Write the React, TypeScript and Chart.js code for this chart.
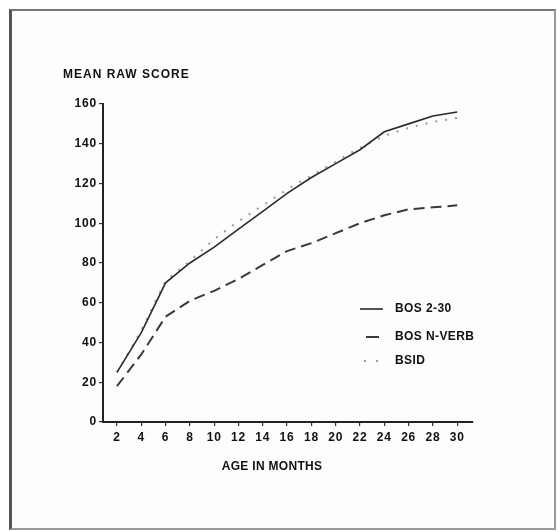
import React, { useEffect, useRef } from "react";
import { Chart, registerables } from "chart.js";

Chart.register(...registerables);

// ---- data ----
const ages = [2, 4, 6, 8, 10, 12, 14, 16, 18, 20, 22, 24, 26, 28, 30];
const bos230 = [25, 45, 70, 80, 88, 97, 106, 115, 123, 130, 137, 146, 150, 154, 156];
const bosNVerb = [18, 34, 53, 61, 66, 72, 79, 86, 90, 95, 100, 104, 107, 108, 109];
const bsid = [25, 46, 71, 81, 92, 101, 109, 117, 124, 131, 138, 144, 148, 151, 153];
const xTickValues = [2, 4, 6, 8, 10, 12, 14, 16, 18, 20, 22, 24, 26, 28, 30];
const seriesNames = ["BOS 2-30", "BOS N-VERB", "BSID"];
const yTitle = "MEAN RAW SCORE";
const xTitle = "AGE IN MONTHS";

const FONT = "'Liberation Sans', Arial, Helvetica, sans-serif";

const toPoints = (vals: number[]) => ages.map((a, i) => ({ x: a, y: vals[i] }));

const styles = [
  { color: "#2a2a2a", width: 1.6, dash: [] as number[] },
  { color: "#3a3a3a", width: 2, dash: [11, 6] },
  { color: "#9a9a9a", width: 2, dash: [2, 8] },
];

const spacingPlugin = {
  id: "spacing",
  beforeDraw(chart: any) {
    (chart.ctx as any).letterSpacing = "0.8px";
  },
};

const overlayPlugin = {
  id: "overlay",
  afterDraw(chart: any) {
    const ctx = chart.ctx as CanvasRenderingContext2D;
    ctx.save();
    ctx.fillStyle = "#111";
    ctx.font = `bold 12px ${FONT}`;
    ctx.textBaseline = "middle";
    ctx.textAlign = "left";
    (ctx as any).letterSpacing = "1px";
    ctx.fillText(yTitle, 63, 75);
    (ctx as any).letterSpacing = "0.3px";
    ctx.textAlign = "center";
    ctx.fillText(xTitle, 272, 467);

    // legend
    const rows = [309, 337, 361];
    const samples = [
      [360, 383],
      [366, 379],
      [364, 380],
    ];
    seriesNames.forEach((name, i) => {
      const st = styles[i];
      ctx.strokeStyle = st.color;
      ctx.lineWidth = st.width;
      ctx.setLineDash(i === 2 ? [2, 10] : []);
      ctx.beginPath();
      ctx.moveTo(samples[i][0], rows[i]);
      ctx.lineTo(samples[i][1], rows[i]);
      ctx.stroke();
      ctx.setLineDash([]);
      ctx.fillStyle = "#111";
      ctx.textAlign = "left";
      ctx.font = `bold 12px ${FONT}`;
      (ctx as any).letterSpacing = "0.4px";
      ctx.fillText(name, 395, rows[i]);
    });
    ctx.restore();
    (ctx as any).letterSpacing = "0px";
  },
};

export default function App() {
  const ref = useRef<HTMLCanvasElement | null>(null);

  useEffect(() => {
    if (!ref.current) return;
    const chart = new Chart(ref.current, {
      type: "line",
      data: {
        datasets: [bos230, bosNVerb, bsid].map((vals, i) => ({
          label: seriesNames[i],
          data: toPoints(vals),
          borderColor: styles[i].color,
          borderWidth: styles[i].width,
          borderDash: styles[i].dash,
          pointRadius: 0,
          fill: false,
          tension: 0,
        })),
      },
      plugins: [spacingPlugin, overlayPlugin],
      options: {
        animation: false,
        responsive: false,
        maintainAspectRatio: false,
        layout: { padding: { left: 0, top: 104, right: 84, bottom: 79 } },
        plugins: {
          legend: { display: false },
          tooltip: { enabled: false },
          title: { display: false },
        },
        scales: {
          x: {
            type: "linear",
            min: 0.85,
            max: 31.3,
            afterBuildTicks: (scale: any) => {
              scale.ticks = xTickValues.map((v) => ({ value: v }));
            },
            afterFit: (scale: any) => {
              scale.height = 30;
            },
            border: { display: true, color: "#222", width: 2 },
            grid: {
              drawOnChartArea: false,
              drawTicks: true,
              tickLength: 4,
              color: "#333",
              lineWidth: 1.2,
            },
            ticks: {
              autoSkip: false,
              maxRotation: 0,
              padding: 4,
              color: "#111",
              font: { family: FONT, size: 12, weight: "bold" },
              callback: (v: any) => String(v),
            },
          },
          y: {
            type: "linear",
            min: 0,
            max: 160,
            afterFit: (scale: any) => {
              scale.width = 103;
            },
            border: { display: true, color: "#222", width: 2 },
            grid: {
              drawOnChartArea: false,
              drawTicks: true,
              tickLength: 4,
              color: "#333",
              lineWidth: 1.2,
            },
            ticks: {
              stepSize: 20,
              padding: 2,
              color: "#111",
              font: { family: FONT, size: 12, weight: "bold" },
            },
          },
        },
      },
    } as any);
    return () => chart.destroy();
  }, []);

  return (
    <div style={{ position: "absolute", left: 0, top: 0, width: 557, height: 531, background: "#fff" }}>
      <div
        style={{
          position: "absolute",
          left: 9,
          top: 9,
          width: 542,
          height: 517,
          borderTop: "2px solid #777",
          borderLeft: "3px solid #555",
          borderRight: "2px solid #999",
          borderBottom: "2px solid #999",
          background: "#fdfdfd",
        }}
      />
      <canvas ref={ref} width={557} height={531} style={{ position: "absolute", left: 0, top: 0 }} />
    </div>
  );
}
